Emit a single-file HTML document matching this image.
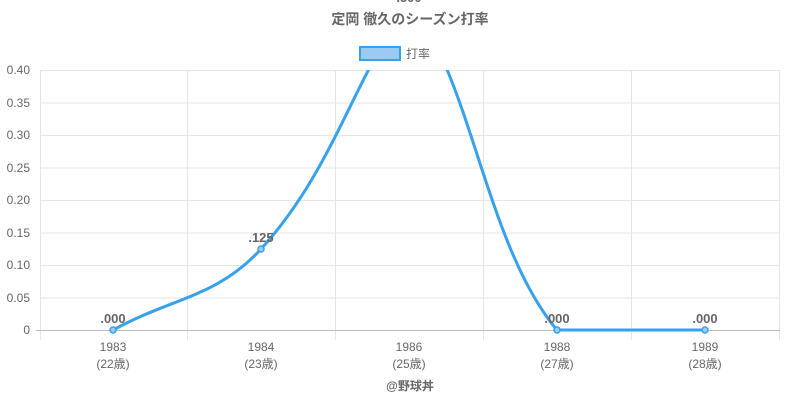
<!DOCTYPE html>
<html><head><meta charset="utf-8"><style>
body{margin:0;background:#fff;}
svg{font-family:"Liberation Sans","Noto Sans CJK JP",sans-serif;}
</style></head><body>
<svg width="800" height="400" viewBox="0 0 800 400">
<defs><clipPath id="c"><rect x="40" y="70" width="740" height="262"/></clipPath></defs>
<text x="409" y="2" text-anchor="middle" font-size="13" font-weight="bold" fill="#666">.500</text>
<text x="410" y="24" text-anchor="middle" font-size="14" font-weight="bold" fill="#666">定岡 徹久のシーズン打率</text>
<rect x="360" y="47" width="40" height="13" fill="#9ccbf2" stroke="#36a2eb" stroke-width="2"/>
<text x="406" y="58" font-size="12" fill="#666">打率</text>
<g stroke="#e6e6e6" stroke-width="1">
<line x1="40" y1="70.5" x2="780" y2="70.5"/><line x1="40" y1="103" x2="780" y2="103"/>
<line x1="40" y1="135.5" x2="780" y2="135.5"/><line x1="40" y1="168" x2="780" y2="168"/>
<line x1="40" y1="200.5" x2="780" y2="200.5"/><line x1="40" y1="233" x2="780" y2="233"/>
<line x1="40" y1="265.5" x2="780" y2="265.5"/><line x1="40" y1="298" x2="780" y2="298"/>
<line x1="40.5" y1="70" x2="40.5" y2="340"/><line x1="187.5" y1="70" x2="187.5" y2="340"/>
<line x1="335.5" y1="70" x2="335.5" y2="340"/><line x1="483.5" y1="70" x2="483.5" y2="340"/>
<line x1="631.5" y1="70" x2="631.5" y2="340"/><line x1="779.5" y1="70" x2="779.5" y2="340"/>
</g>
<line x1="36" y1="330.5" x2="780" y2="330.5" stroke="#bbb"/>
<g font-size="12" fill="#666" text-anchor="end">
<text x="30" y="74">0.40</text><text x="30" y="107">0.35</text><text x="30" y="139">0.30</text>
<text x="30" y="172">0.25</text><text x="30" y="204">0.20</text><text x="30" y="237">0.15</text>
<text x="30" y="269">0.10</text><text x="30" y="302">0.05</text><text x="30" y="334">0</text>
</g>
<g font-size="12" fill="#666" text-anchor="middle">
<text x="113" y="351">1983</text><text x="113" y="368">(22歳)</text>
<text x="261" y="351">1984</text><text x="261" y="368">(23歳)</text>
<text x="409" y="351">1986</text><text x="409" y="368">(25歳)</text>
<text x="557" y="351">1988</text><text x="557" y="368">(27歳)</text>
<text x="705" y="351">1989</text><text x="705" y="368">(28歳)</text>
</g>
<path clip-path="url(#c)" d="M113,330 C172.2,297.6 217.1,297.2 261,249 C335.5,167.2 356.4,70 409,5 C470,70 485,245 557,330 C591.7,330 645.8,330 705,330" fill="none" stroke="#36a2eb" stroke-width="3"/>
<g fill="#9ccbf2" stroke="#36a2eb" stroke-width="1.5">
<circle cx="113" cy="330" r="3"/><circle cx="261" cy="249" r="3"/>
<circle cx="557" cy="330" r="3"/><circle cx="705" cy="330" r="3"/>
</g>
<g font-size="13" font-weight="bold" fill="#666" text-anchor="middle">
<text x="113" y="323">.000</text><text x="261" y="242">.125</text>
<text x="557" y="323">.000</text><text x="705" y="323">.000</text>
</g>
<text x="410" y="390" text-anchor="middle" font-size="12" font-weight="bold" fill="#666">@野球丼</text>
</svg>
</body></html>
